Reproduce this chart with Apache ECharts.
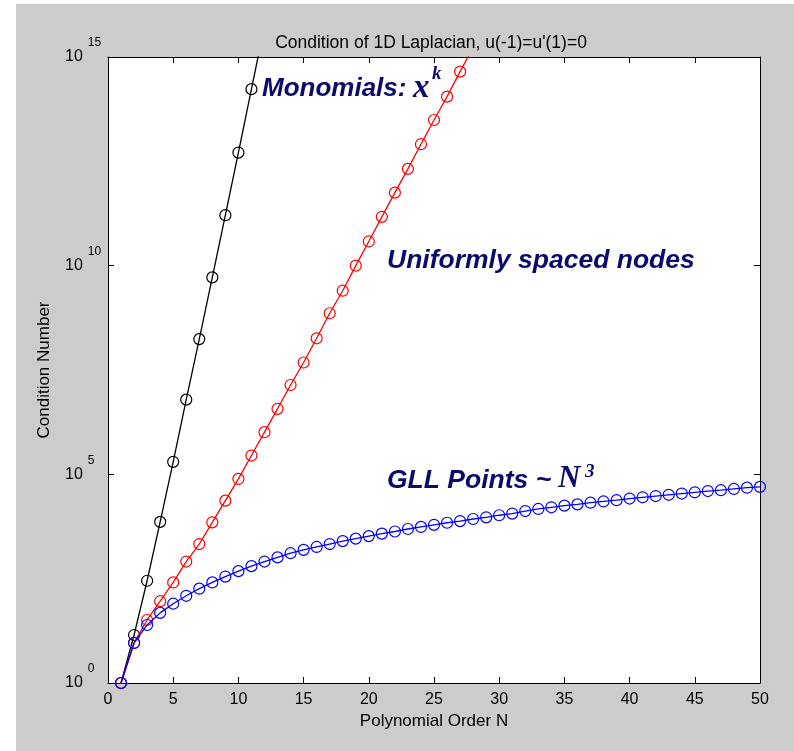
<!DOCTYPE html>
<html>
<head>
<meta charset="utf-8">
<script src="https://cdn.jsdelivr.net/npm/echarts@6/dist/echarts.min.js"></script>
<style>
  html, body { margin: 0; padding: 0; background: #fff; }
  #frame { position: absolute; left: 16px; top: 4px; width: 778px; height: 747px; background: #cccccc; }
  #main { position: absolute; left: 0; top: 0; width: 794px; height: 751px; }
</style>
</head>
<body>
<div id="frame"></div>
<div id="main"></div>
<script>
// polynomial order N
const orderN = [1, 2, 3, 4, 5, 6, 7, 8, 9, 10, 11, 12, 13, 14, 15, 16, 17, 18, 19, 20,
  21, 22, 23, 24, 25, 26, 27, 28, 29, 30, 31, 32, 33, 34, 35, 36, 37, 38, 39, 40,
  41, 42, 43, 44, 45, 46, 47, 48, 49, 50];

// log10 of the condition number
const monomialLog = [0, 1.15, 2.45, 3.86, 5.30, 6.79, 8.24, 9.72, 11.21, 12.71, 14.23, 15.75];
const uniformLog = [0, 0.96, 1.51, 1.96, 2.41, 2.91, 3.33, 3.85, 4.37, 4.89, 5.45, 6.01, 6.57, 7.14,
  7.68, 8.26, 8.86, 9.40, 10.0, 10.58, 11.17, 11.75, 12.32, 12.91, 13.49, 14.05, 14.65, 15.23];
const gllLog = [0, 0.96, 1.39, 1.68, 1.90, 2.09, 2.26, 2.41, 2.55, 2.68, 2.80, 2.91, 3.01, 3.11,
  3.19, 3.26, 3.33, 3.40, 3.46, 3.52, 3.58, 3.63, 3.69, 3.74, 3.79, 3.84, 3.88, 3.93, 3.97, 4.02,
  4.06, 4.12, 4.17, 4.21, 4.25, 4.28, 4.32, 4.35, 4.38, 4.42, 4.45, 4.48, 4.51, 4.54, 4.57, 4.60,
  4.62, 4.65, 4.68, 4.70];

const xTicks = [0, 5, 10, 15, 20, 25, 30, 35, 40, 45, 50];

const toPoints = (logs) => logs.map((v, i) => [orderN[i], Math.pow(10, v)]);

const FONT = '"Liberation Sans", Arial, sans-serif';
const SERIF = '"Liberation Serif", "Times New Roman", serif';
const NAVY = '#0b0b6c';

function makeSeries(name, logs, color, z) {
  return {
    name: name,
    type: 'line',
    data: toPoints(logs),
    symbol: 'circle',
    symbolSize: 11,
    showAllSymbol: true,
    clip: true,
    silent: true,
    z: z,
    lineStyle: { color: color, width: 1.3 },
    itemStyle: { color: 'rgba(0,0,0,0)', borderColor: color, borderWidth: 1.2 },
    emphasis: { disabled: true }
  };
}

const myChart = echarts.init(document.getElementById('main'));
myChart.setOption({
  animation: false,
  backgroundColor: 'transparent',
  textStyle: { fontFamily: FONT },
  title: {
    text: "Condition of 1D Laplacian, u(-1)=u'(1)=0",
    left: 426,
    top: 29,
    textAlign: 'center',
    textStyle: { fontSize: 17.5, fontWeight: 'normal', color: '#000', fontFamily: FONT }
  },
  grid: {
    left: 108, top: 57, width: 652, height: 626,
    show: true, backgroundColor: '#fff', borderWidth: 0
  },
  xAxis: [
    {
      type: 'value', min: xTicks[0], max: xTicks[xTicks.length - 1], interval: 5,
      position: 'bottom',
      name: 'Polynomial Order N', nameLocation: 'middle', nameGap: 28,
      nameTextStyle: { fontSize: 17, color: '#000', fontFamily: FONT },
      axisLine: { show: true, onZero: false, lineStyle: { color: '#000', width: 1 } },
      axisTick: { show: true, inside: true, length: 6, lineStyle: { color: '#000' } },
      axisLabel: { fontSize: 16, color: '#000', margin: 9, fontFamily: FONT },
      splitLine: { show: false }
    },
    {
      type: 'value', min: xTicks[0], max: xTicks[xTicks.length - 1], interval: 5,
      position: 'top',
      axisLine: { show: true, onZero: false, lineStyle: { color: '#000', width: 1 } },
      axisTick: { show: true, inside: true, length: 6, lineStyle: { color: '#000' } },
      axisLabel: { show: false },
      splitLine: { show: false }
    }
  ],
  yAxis: [
    {
      type: 'log', logBase: 10, min: 1, max: 1e15, interval: 5,
      position: 'left',
      name: 'Condition Number', nameLocation: 'middle', nameGap: 55,
      nameTextStyle: { fontSize: 17, color: '#000', fontFamily: FONT },
      axisLine: { show: true, onZero: false, lineStyle: { color: '#000', width: 1 } },
      axisTick: { show: true, inside: true, length: 6, lineStyle: { color: '#000' } },
      minorTick: { show: false },
      splitLine: { show: false },
      axisLabel: {
        align: 'left',
        margin: 43,
        formatter: (v) => '{b|10}{e|' + Math.round(Math.log10(v)) + '}',
        rich: {
          b: { fontSize: 16, color: '#000', lineHeight: 40, verticalAlign: 'middle', fontFamily: FONT },
          e: { fontSize: 12, color: '#000', verticalAlign: 'top', padding: [0, 0, 0, 5], fontFamily: FONT }
        }
      }
    },
    {
      type: 'log', logBase: 10, min: 1, max: 1e15, interval: 5,
      position: 'right',
      axisLine: { show: true, onZero: false, lineStyle: { color: '#000', width: 1 } },
      axisTick: { show: true, inside: true, length: 6, lineStyle: { color: '#000' } },
      axisLabel: { show: false },
      splitLine: { show: false }
    }
  ],
  series: [
    makeSeries('Monomials', monomialLog, '#000000', 2),
    makeSeries('Uniformly spaced nodes', uniformLog, '#ff0000', 3),
    makeSeries('GLL Points', gllLog, '#0000ff', 4)
  ],
  graphic: [
    { type: 'text', left: 262, top: 76, silent: true,
      style: { text: 'Monomials:', font: 'italic bold 26px ' + FONT, fill: NAVY } },
    { type: 'text', left: 413, top: 72, silent: true,
      style: { text: 'x', font: 'italic bold 33px ' + SERIF, fill: NAVY } },
    { type: 'text', left: 432, top: 65, silent: true,
      style: { text: 'k', font: 'italic bold 19px ' + SERIF, fill: NAVY } },
    { type: 'text', left: 387, top: 247, silent: true,
      style: { text: 'Uniformly spaced nodes', font: 'italic bold 26.5px ' + FONT, fill: NAVY } },
    { type: 'text', left: 387, top: 467, silent: true,
      style: { text: 'GLL Points ~', font: 'italic bold 26.5px ' + FONT, fill: NAVY } },
    { type: 'text', left: 558, top: 463, silent: true,
      style: { text: 'N', font: 'italic bold 31px ' + SERIF, fill: NAVY } },
    { type: 'text', left: 585, top: 463, silent: true,
      style: { text: '3', font: 'italic bold 19px ' + SERIF, fill: NAVY } }
  ]
});
</script>
</body>
</html>
